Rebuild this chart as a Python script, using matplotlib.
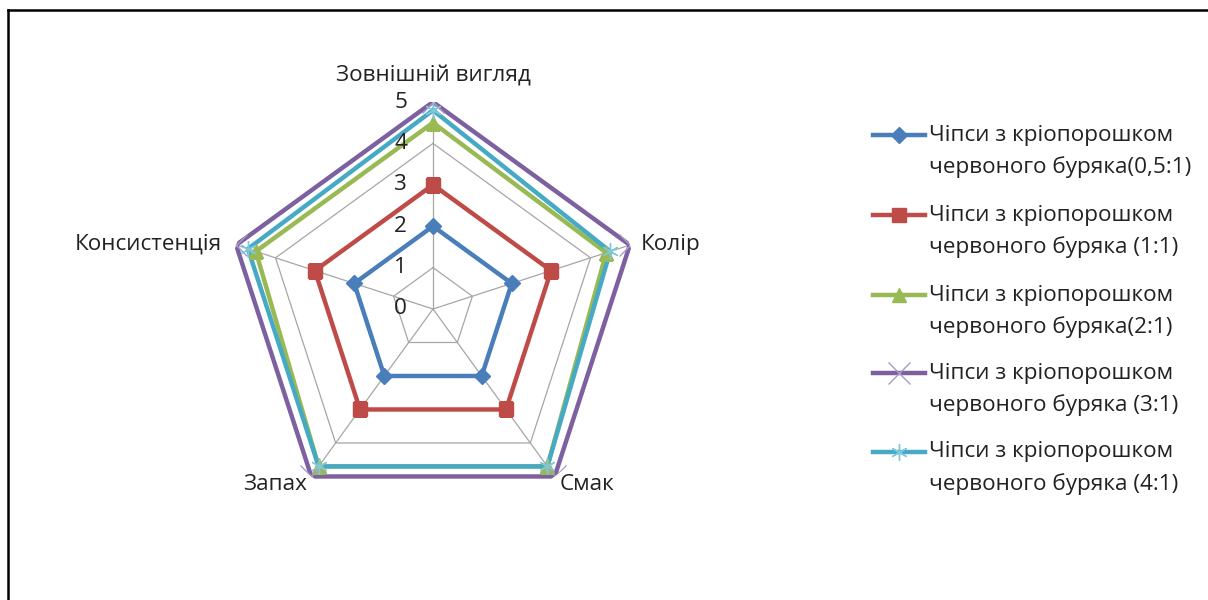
import numpy as np
import matplotlib
matplotlib.use("Agg")
import matplotlib.pyplot as plt
from matplotlib.lines import Line2D
import matplotlib.transforms as mtransforms

plt.rcParams['font.family'] = ['Open Sans', 'DejaVu Sans']

categories = ["Зовнішній вигляд", "Колір", "Смак", "Запах", "Консистенція"]
series_labels = [
    "Чіпси з кріопорошком\nчервоного буряка(0,5:1)",
    "Чіпси з кріопорошком\nчервоного буряка (1:1)",
    "Чіпси з кріопорошком\nчервоного буряка(2:1)",
    "Чіпси з кріопорошком\nчервоного буряка (3:1)",
    "Чіпси з кріопорошком\nчервоного буряка (4:1)",
]
s_05 = [2, 2, 2, 2, 2]
s_1 = [3, 3, 3, 3, 3]
s_2 = [4.5, 4.4, 4.7, 4.7, 4.5]
s_3 = [5, 5, 5, 5, 5]
s_4 = [4.8, 4.5, 4.7, 4.7, 4.7]
series = [s_05, s_1, s_2, s_3, s_4]
r_ticks = [0, 1, 2, 3, 4, 5]

colors = ["#4A7EBB", "#BE4B48", "#98B954", "#7D60A0", "#46AAC5"]
marker_colors = ["#4A7EBB", "#BE4B48", "#98B954", "#A99BC8", "#7FC7DB"]
markers = ["D", "s", "^", "x", (6, 2, 0)]
msizes = [8, 10, 10, 16, 12]
mews = [1, 1, 1, 1.0, 1.0]

FS = 16.2
TXT = "#222222"
W, H = 1208, 600
fig = plt.figure(figsize=(W / 100, H / 100), dpi=100)
fig.patch.set_facecolor("white")

# frame border
fig.add_artist(Line2D([8 / W, 1.0], [1 - 9.5 / H, 1 - 9.5 / H], color="black", lw=1.8,
                      transform=fig.transFigure))
fig.add_artist(Line2D([8 / W, 8 / W], [1 - 9.5 / H, 0], color="black", lw=1.8,
                      transform=fig.transFigure))

cx, cy, R = 433, 309, 207
ax = fig.add_axes([(cx - R) / W, (H - cy - R) / H, 2 * R / W, 2 * R / H], projection="polar")
ax.set_theta_offset(np.pi / 2)
ax.set_theta_direction(-1)
ax.set_ylim(0, 5)
ax.grid(False)
ax.spines["polar"].set_visible(False)
ax.set_xticks([])
ax.set_yticks([])
ax.patch.set_alpha(0)

n = len(categories)
angles = np.arange(n) * 2 * np.pi / n
ang_c = np.append(angles, angles[0])

# grid pentagons and spokes
for r in r_ticks[1:]:
    ax.plot(ang_c, [r] * (n + 1), color="#a6a6a6", lw=0.9, zorder=1)
for a in angles:
    ax.plot([a, a], [0, r_ticks[-1]], color="#a6a6a6", lw=0.9, zorder=1)

for vals, col, mcol, mk, ms, mew in zip(series, colors, marker_colors, markers, msizes, mews):
    v = np.append(vals, vals[0])
    ax.plot(ang_c, v, color=col, lw=3.2, zorder=3)
    ax.plot(angles, vals, ls="none", marker=mk, ms=ms, mew=mew,
            color=mcol, mec=mcol, mfc=mcol, zorder=4)

# radial tick labels
off = mtransforms.offset_copy(ax.transData, fig=fig, x=-26, y=0, units="dots")
for r in r_ticks:
    ax.text(0, r, str(r), transform=off, fontsize=FS, ha="right", va="center",
            color=TXT, zorder=5)

# category labels
lab_pos = [(433, 76, "center"), (641, 244, "left"),
           (560, 484, "left"), (307, 484, "right"),
           (222, 244, "right")]
for cat, (x, y, ha) in zip(categories, lab_pos):
    fig.text(x / W, 1 - y / H, cat, ha=ha, va="center", fontsize=FS, color=TXT)

# legend (manual)
leg_y = [135, 215, 295, 373, 452]
line_gap = 32
for lab, col, mcol, mk, ms, mew, y in zip(series_labels, colors, marker_colors, markers,
                                          msizes, mews, leg_y):
    yf = 1 - y / H
    fig.add_artist(Line2D([873 / W, 925 / W], [yf, yf], color=col, lw=3.2,
                          transform=fig.transFigure))
    fig.add_artist(Line2D([899 / W], [yf], ls="none", marker=mk, ms=ms, mew=mew,
                          color=mcol, mec=mcol, mfc=mcol, transform=fig.transFigure))
    for i, part in enumerate(lab.split("\n")):
        fig.text(929 / W, 1 - (y + i * line_gap) / H, part, ha="left", va="center",
                 fontsize=FS, color=TXT)

fig.savefig("out.png", dpi=100, facecolor="white")
